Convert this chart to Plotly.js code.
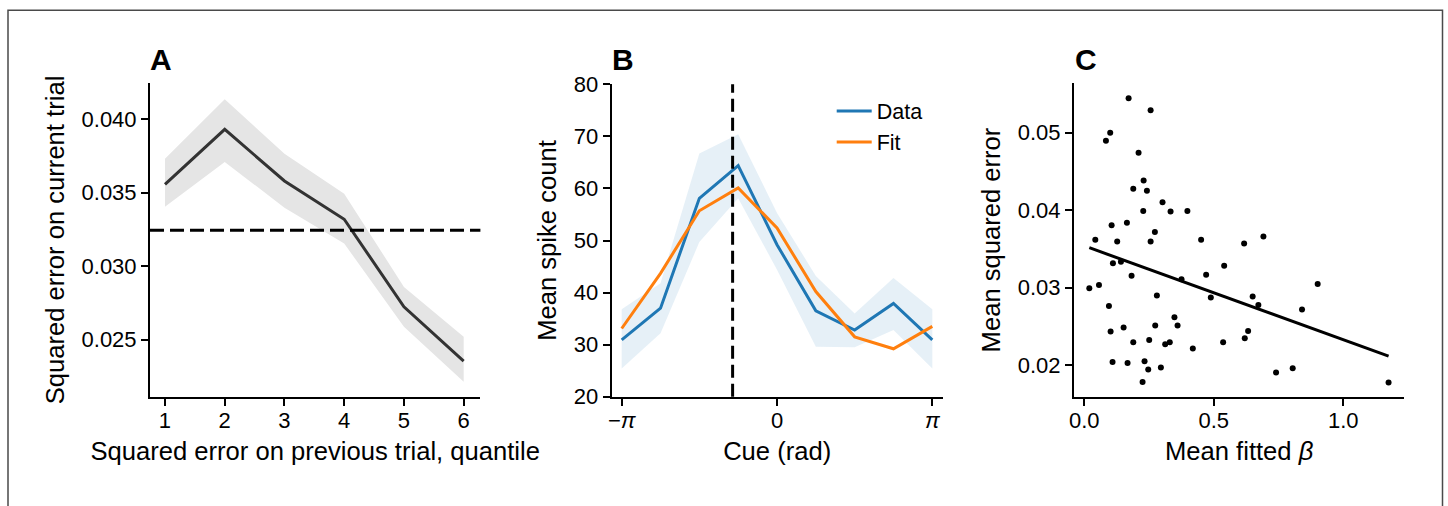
<!DOCTYPE html>
<html>
<head>
<meta charset="utf-8">
<script src="https://cdn.plot.ly/plotly-3.0.1.min.js"></script>
<style>
html,body{margin:0;padding:0;background:#ffffff;}
#chart{width:1448px;height:506px;}
</style>
</head>
<body>
<div id="chart"></div>
<script>
// ---------- Panel A ----------
const quantiles   = [1, 2, 3, 4, 5, 6];
const sqErrMean   = [0.03556, 0.03930, 0.03579, 0.03319, 0.02724, 0.02355];
const sqErrUpper  = [0.03731, 0.04134, 0.03765, 0.03493, 0.02859, 0.02520];
const sqErrLower  = [0.03404, 0.03708, 0.03398, 0.03154, 0.02588, 0.02215];
const baselineErr = 0.03244;
const quantileTicks = [1, 2, 3, 4, 5, 6];
const sqErrTicks    = [0.025, 0.030, 0.035, 0.040];

// ---------- Panel B ----------
const cueAngles  = [-3.14159, -2.35619, -1.5708, -0.7854, 0, 0.7854, 1.5708, 2.35619, 3.14159];
const spikeData  = [30.9, 37.0, 58.1, 64.4, 49.2, 36.5, 32.8, 37.9, 30.9];
const spikeFit   = [33.1, 43.7, 55.7, 60.1, 52.4, 40.2, 31.5, 29.2, 33.5];
const spikeUpper = [36.8, 41.8, 66.7, 70.4, 55.3, 43.2, 36.0, 42.8, 36.8];
const spikeLower = [25.4, 32.2, 49.7, 58.1, 44.4, 29.6, 29.5, 32.8, 25.4];
const cueMarker  = -0.898;
const cueTickVals  = [-3.14159265, 0, 3.14159265];
const cueTickText  = ['\u2212<i>\u03c0</i>', '0', '<i>\u03c0</i>'];
const spikeTicks   = [20, 30, 40, 50, 60, 70, 80];

// ---------- Panel C ----------
const fittedBeta = [0.171, 0.256, 0.100, 0.0835, 0.2095, 0.229, 0.189, 0.2417, 0.302, 0.2275,
                    0.333, 0.398, 0.1054, 0.1645, 0.2725, 0.0424, 0.127, 0.256, 0.451, 0.617,
                    0.6915, 0.1105, 0.1414, 0.540, 0.1825, 0.4704, 0.3753, 0.0193, 0.0566, 0.901,
                    0.2802, 0.4884, 0.650, 0.672, 0.0951, 0.8406, 0.348, 0.360, 0.2738, 0.1517,
                    0.1015, 0.6324, 0.6195, 0.2506, 0.189, 0.3123, 0.330, 0.536, 0.419, 0.109,
                    0.167, 0.2326, 0.2956, 0.2468, 0.225, 0.7404, 0.8046, 1.1748];
const meanSqErr  = [0.05444, 0.05289, 0.0500, 0.04897, 0.04741, 0.04384, 0.04276, 0.0425, 0.04103, 0.03987,
                    0.03983, 0.03987, 0.03806, 0.03836, 0.03716, 0.03616, 0.03595, 0.03595, 0.03616, 0.03569,
                    0.0366, 0.03315, 0.03332, 0.0328, 0.03151, 0.03164, 0.03108, 0.02991, 0.03034, 0.03047,
                    0.02897, 0.02871, 0.02884, 0.02776, 0.02763, 0.02716, 0.02616, 0.02509, 0.02509, 0.02483,
                    0.02431, 0.0244, 0.02345, 0.02323, 0.02293, 0.02267, 0.02293, 0.02293, 0.02211, 0.02039,
                    0.02026, 0.02047, 0.01966, 0.0194, 0.0178, 0.01901, 0.01957, 0.01772];
const fitIntercept = 0.03538;
const fitSlope     = -0.01212;
const betaTicks    = [0.0, 0.5, 1.0];
const mseTicks     = [0.02, 0.03, 0.04, 0.05];

// ---------- helpers ----------
const W = 1448, H = 506;
const px2x = p => p / W;
const px2y = p => 1 - p / H;

const FONT = 'Liberation Sans, Arial, Helvetica, sans-serif';
const TICK_FS = 22, TITLE_FS = 25.6;

function axisStyle(extra) {
  return Object.assign({
    showline: true, linecolor: '#000', linewidth: 2,
    ticks: 'outside', ticklen: 7, tickwidth: 2, tickcolor: '#000',
    showgrid: false, zeroline: false, mirror: false,
    tickfont: {family: FONT, size: TICK_FS, color: '#000'},
    automargin: false, fixedrange: true
  }, extra);
}

const betaMin = Math.min(...fittedBeta), betaMax = Math.max(...fittedBeta);
const fitX = [betaMin, betaMax];
const fitY = fitX.map(b => fitIntercept + fitSlope * b);

const blue = '#1f77b4', orange = '#ff7f0e';

const traces = [
  // Panel A band
  {x: quantiles.concat(quantiles.slice().reverse()),
   y: sqErrUpper.concat(sqErrLower.slice().reverse()),
   xaxis: 'x', yaxis: 'y', type: 'scatter', mode: 'lines', fill: 'toself',
   fillcolor: '#e5e5e5', line: {width: 0, color: 'rgba(0,0,0,0)'},
   showlegend: false, hoverinfo: 'skip'},
  {x: quantiles, y: sqErrMean, xaxis: 'x', yaxis: 'y', type: 'scatter', mode: 'lines',
   line: {color: '#333333', width: 3}, showlegend: false},
  // Panel B band
  {x: cueAngles.concat(cueAngles.slice().reverse()),
   y: spikeUpper.concat(spikeLower.slice().reverse()),
   xaxis: 'x2', yaxis: 'y2', type: 'scatter', mode: 'lines', fill: 'toself',
   fillcolor: 'rgba(31,119,180,0.11)', line: {width: 0, color: 'rgba(0,0,0,0)'},
   showlegend: false, hoverinfo: 'skip'},
  {x: cueAngles, y: spikeData, xaxis: 'x2', yaxis: 'y2', type: 'scatter', mode: 'lines',
   name: 'Data', line: {color: blue, width: 3}},
  {x: cueAngles, y: spikeFit, xaxis: 'x2', yaxis: 'y2', type: 'scatter', mode: 'lines',
   name: 'Fit', line: {color: orange, width: 3}},
  // Panel C
  {x: fittedBeta, y: meanSqErr, xaxis: 'x3', yaxis: 'y3', type: 'scatter', mode: 'markers',
   marker: {color: '#000', size: 6, line: {width: 0}}, showlegend: false},
  {x: fitX, y: fitY, xaxis: 'x3', yaxis: 'y3', type: 'scatter', mode: 'lines',
   line: {color: '#000', width: 3}, showlegend: false}
];

const yDom = [px2y(396.7), px2y(83.3)];
const titleFont = {family: FONT, size: TITLE_FS, color: '#000'};

const layout = {
  width: W, height: H,
  margin: {l: 0, r: 0, t: 0, b: 0, pad: 0},
  paper_bgcolor: '#ffffff', plot_bgcolor: 'rgba(0,0,0,0)',
  font: {family: FONT, size: TICK_FS, color: '#000'},
  showlegend: true,
  legend: {
    x: px2x(831.7), y: px2y(90.5), xanchor: 'left', yanchor: 'top',
    bgcolor: 'rgba(0,0,0,0)', borderwidth: 0, itemwidth: 35,
    font: {family: FONT, size: 21.5, color: '#000'}
  },
  xaxis: axisStyle({
    domain: [px2x(150), px2x(480.4)], anchor: 'y', range: [0.749, 6.28],
    tickvals: quantileTicks, ticklabelstandoff: -4,
    title: {text: 'Squared error on previous trial, quantile', font: titleFont, standoff: 10}
  }),
  yaxis: axisStyle({
    domain: yDom, anchor: 'x', range: [0.02113, 0.04243],
    tickvals: sqErrTicks, tickformat: '.3f', ticklabelstandoff: 0,
    title: {text: 'Squared error on current trial', font: titleFont, standoff: 10}
  }),
  xaxis2: axisStyle({
    domain: [px2x(611.7), px2x(942.7)], anchor: 'y2', range: [-3.344, 3.352],
    tickvals: cueTickVals, ticktext: cueTickText, ticklabelstandoff: -4,
    title: {text: 'Cue (rad)', font: titleFont, standoff: 10}
  }),
  yaxis2: axisStyle({
    domain: [px2y(396.7), px2y(84.3)], anchor: 'x2', range: [20, 80],
    tickvals: spikeTicks, ticklabelstandoff: 0,
    title: {text: 'Mean spike count', font: titleFont, standoff: 10}
  }),
  xaxis3: axisStyle({
    domain: [px2x(1074), px2x(1404.3)], anchor: 'y3', range: [-0.0398, 1.2355],
    tickvals: betaTicks, tickformat: '.1f', ticklabelstandoff: -4,
    title: {text: 'Mean fitted <i>\u03b2</i>', font: titleFont, standoff: 10}
  }),
  yaxis3: axisStyle({
    domain: yDom, anchor: 'x3', range: [0.0159, 0.05638],
    tickvals: mseTicks, tickformat: '.2f', ticklabelstandoff: 0,
    title: {text: 'Mean squared error', font: titleFont, standoff: 10}
  }),
  shapes: [
    {type: 'line', xref: 'x domain', yref: 'y', x0: 0, x1: 1, y0: baselineErr, y1: baselineErr,
     line: {color: '#000', width: 3, dash: '14px,6px'}},
    {type: 'line', xref: 'x2', yref: 'y2 domain', x0: cueMarker, x1: cueMarker, y0: 0, y1: 1,
     line: {color: '#000', width: 3, dash: '13px,6px'}},
    {type: 'rect', xref: 'paper', yref: 'paper', x0: px2x(8), x1: px2x(1442.5), y0: -0.2, y1: px2y(10.3),
     line: {color: '#4a4a4a', width: 1.5}, fillcolor: 'rgba(0,0,0,0)'}
  ],
  annotations: [
    {text: '<b>A</b>', xref: 'paper', yref: 'paper', x: px2x(148), y: px2y(60), xanchor: 'left', yanchor: 'middle',
     showarrow: false, font: {family: FONT, size: 30, color: '#000'}},
    {text: '<b>B</b>', xref: 'paper', yref: 'paper', x: px2x(609.8), y: px2y(60), xanchor: 'left', yanchor: 'middle',
     showarrow: false, font: {family: FONT, size: 30, color: '#000'}},
    {text: '<b>C</b>', xref: 'paper', yref: 'paper', x: px2x(1072.7), y: px2y(60), xanchor: 'left', yanchor: 'middle',
     showarrow: false, font: {family: FONT, size: 30, color: '#000'}}
  ]
};

Plotly.newPlot('chart', traces, layout, {displayModeBar: false, staticPlot: true});
</script>
</body>
</html>
